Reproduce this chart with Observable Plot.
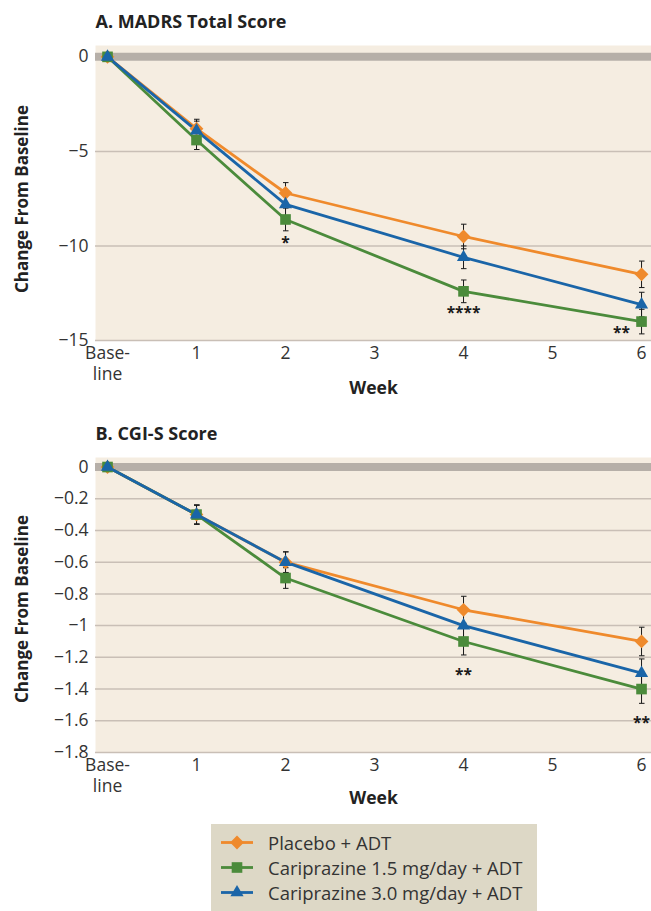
<!DOCTYPE html>
<html>
<head>
<meta charset="utf-8">
<script src="https://cdn.jsdelivr.net/npm/d3@7"></script>
<script src="https://cdn.jsdelivr.net/npm/@observablehq/plot@0.6"></script>
<style>
  body { margin: 0; background: #fff; font-family: "Open Sans", Lato, sans-serif; }
  #root { width: 651px; }
  #legend { margin-left: 211px; margin-top: 14px; width: 326px; background: #ddd8c6; padding: 6px 0 10px 0; }
  .lrow { display: flex; align-items: center; height: 25px; font-size: 18.5px; color: #333; white-space: nowrap; }
  .lrow svg { width: 57px; height: 25px; flex: none; }
</style>
</head>
<body>
<div id="root"></div>
<script>
// ---- data ----
const weeks = [0, 1, 2, 4, 6];
const xTickValues = [0, 1, 2, 3, 4, 5, 6];
const xTickLabels = ["Base-\nline", "1", "2", "3", "4", "5", "6"];
const seriesNames = ["Placebo + ADT", "Cariprazine 1.5 mg/day + ADT", "Cariprazine 3.0 mg/day + ADT"];
const seriesColors = ["#ef8a2c", "#4b8b3b", "#1a65a8"];
const seriesSymbols = ["diamond2", "square", "triangle"];
const seriesRadius = [6.2, 6, 4.9];

// A. MADRS total score change from baseline
const madrsPlacebo = [0, -3.8, -7.2, -9.5, -11.5];
const madrsCar15   = [0, -4.4, -8.6, -12.4, -14.0];
const madrsCar30   = [0, -3.9, -7.8, -10.6, -13.1];
const madrsErrPlacebo = [0, 0.5, 0.55, 0.65, 0.7];
const madrsErrCar15   = [0, 0.5, 0.6, 0.6, 0.65];
const madrsErrCar30   = [0, 0.5, 0.6, 0.6, 0.65];
const madrsTicks = [0, -5, -10, -15];
const madrsSigWeeks = [2, 4, 6];
const madrsSigLabels = ["*", "****", "**"];

// B. CGI-S score change from baseline
const cgiPlacebo = [0, -0.3, -0.6, -0.9, -1.1];
const cgiCar15   = [0, -0.3, -0.7, -1.1, -1.4];
const cgiCar30   = [0, -0.3, -0.6, -1.0, -1.3];
const cgiErrPlacebo = [0, 0.06, 0.065, 0.085, 0.09];
const cgiErrCar15   = [0, 0.06, 0.065, 0.085, 0.09];
const cgiErrCar30   = [0, 0.06, 0.065, 0.085, 0.09];
const cgiTicks = [0, -0.2, -0.4, -0.6, -0.8, -1, -1.2, -1.4, -1.6, -1.8];
const cgiSigWeeks = [4, 6];
const cgiSigLabels = ["**", "**"];

// ---- build ----
const FONT = "'Open Sans', Lato, sans-serif";
const fmt = d => (d < 0 ? "\u2212" : "") + d3.format("")(Math.abs(d));

function buildRows(values, errors) {
  return seriesNames.flatMap((s, i) => weeks.map((w, j) => ({
    series: s, idx: i, week: w, value: values[i][j], err: errors[i][j]
  })));
}

function panel({title, values, errors, yTicks, yDomain, height, marginTop, marginBottom, sig, ylabelDy, weekDy}) {
  const rows = buildRows(values, errors);
  const green = rows.filter(d => d.idx === 1);
  const sigRows = sig.weeks.map((w, k) => ({week: w, value: green.find(d => d.week === w).value, label: sig.labels[k]}));
  const marks = [
    Plot.frame({fill: "#f5ede1", stroke: null}),
    Plot.ruleY(yTicks.filter(d => d !== 0), {y: d => d, stroke: "#c9bfb6", strokeWidth: 1.5}),
    Plot.ruleY([0], {y: d => d, stroke: "#b6afa8", strokeWidth: 8}),
  ];
  seriesNames.forEach((s, i) => {
    marks.push(Plot.line(rows.filter(d => d.idx === i), {x: "week", y: "value", stroke: seriesColors[i], strokeWidth: 2.8}));
  });
  marks.push(Plot.link(rows.filter(d => d.err > 0), {
    x1: "week", x2: "week", y1: d => d.value - d.err, y2: d => d.value + d.err,
    stroke: "#1a1a1a", strokeWidth: 1, markerStart: "tick", markerEnd: "tick"
  }));
  seriesNames.forEach((s, i) => {
    marks.push(Plot.dot(rows.filter(d => d.idx === i), {x: "week", y: "value", symbol: seriesSymbols[i], fill: seriesColors[i], stroke: null, r: seriesRadius[i]}));
  });
  sig.place.forEach((p, k) => {
    marks.push(Plot.text([sigRows[k]], {x: "week", y: "value", text: "label", dx: p[0], dy: p[1], fontSize: 15.5, fontWeight: "bold", fill: "#1a1a1a"}));
  });
  marks.push(
    Plot.axisY({ticks: yTicks, tickFormat: fmt, tickSize: 0, tickPadding: 7, label: null, fontSize: 17.5}),
    Plot.axisX({ticks: xTickValues, tickFormat: d => xTickLabels[xTickValues.indexOf(d)], tickSize: 0, tickPadding: 4, label: null, fontSize: 17.5, lineHeight: 1.2}),
    Plot.text([title], {text: d => d, frameAnchor: "top-left", textAnchor: "start", lineAnchor: "middle", dy: -23, fontSize: 18, fontWeight: "bold", fill: "#222"}),
    Plot.text(["Change From Baseline"], {text: d => d, frameAnchor: "left", textAnchor: "middle", lineAnchor: "middle", rotate: -90, dx: -73, dy: ylabelDy, fontSize: 17, fontWeight: "bold", fill: "#222"}),
    Plot.text(["Week"], {text: d => d, frameAnchor: "bottom", lineAnchor: "middle", dy: weekDy, fontSize: 17.5, fontWeight: "bold", fill: "#222"})
  );
  return Plot.plot({
    width: 651, height, marginTop, marginBottom, marginLeft: 95, marginRight: 0,
    style: {fontFamily: FONT, fontSize: "17.5px", color: "#333", background: "#fff", overflow: "visible"},
    x: {domain: [-0.135, 6.112]},
    y: {domain: yDomain},
    marks
  });
}

const root = document.getElementById("root");
root.appendChild(panel({
  title: "A. MADRS Total Score",
  values: [madrsPlacebo, madrsCar15, madrsCar30],
  errors: [madrsErrPlacebo, madrsErrCar15, madrsErrCar30],
  yTicks: madrsTicks, yDomain: [-15, 0.6],
  height: 410, marginTop: 45, marginBottom: 70,
  sig: {weeks: madrsSigWeeks, labels: madrsSigLabels, place: [[0, 24], [0, 22], [-20, 11]]},
  ylabelDy: 6, weekDy: 48
}));
root.appendChild(panel({
  title: "B. CGI-S Score",
  values: [cgiPlacebo, cgiCar15, cgiCar30],
  errors: [cgiErrPlacebo, cgiErrCar15, cgiErrCar30],
  yTicks: cgiTicks, yDomain: [-1.8, 0.06],
  height: 400, marginTop: 47, marginBottom: 58,
  sig: {weeks: cgiSigWeeks, labels: cgiSigLabels, place: [[0, 34], [0, 34]]},
  ylabelDy: 4, weekDy: 46
}));

// legend
const legend = document.createElement("div");
legend.id = "legend";
seriesNames.forEach((s, i) => {
  const row = document.createElement("div");
  row.className = "lrow";
  const svg = d3.create("svg").attr("width", 57).attr("height", 25);
  svg.append("line").attr("x1", 10).attr("x2", 42).attr("y1", 12.5).attr("y2", 12.5)
    .attr("stroke", seriesColors[i]).attr("stroke-width", 2.8);
  const symMap = {diamond2: d3.symbolDiamond2, square: d3.symbolSquare, triangle: d3.symbolTriangle};
  const r = seriesRadius[i];
  svg.append("path").attr("transform", "translate(26,12.5)")
    .attr("d", d3.symbol(symMap[seriesSymbols[i]], Math.PI * r * r)())
    .attr("fill", seriesColors[i]);
  row.appendChild(svg.node());
  const span = document.createElement("span");
  span.textContent = s;
  row.appendChild(span);
  legend.appendChild(row);
});
root.appendChild(legend);
</script>
</body>
</html>
